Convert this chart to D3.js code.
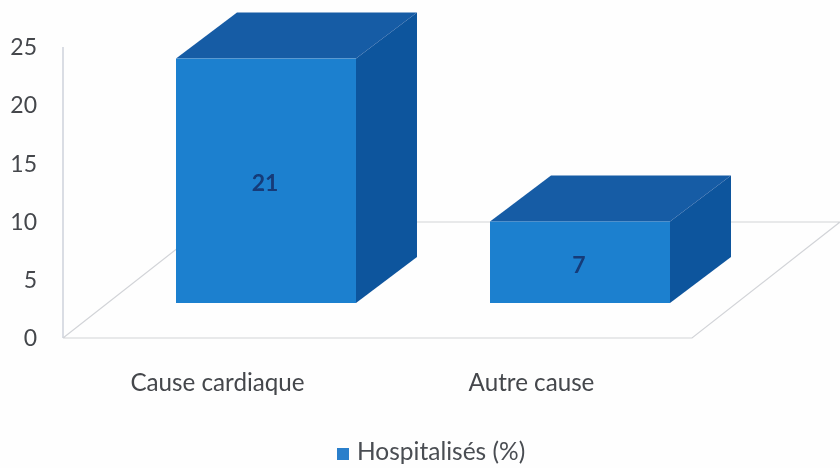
<!DOCTYPE html>
<html><head><meta charset="utf-8">
<script src="https://cdn.jsdelivr.net/npm/d3@7"></script>
<style>html,body{margin:0;padding:0;background:#fefefe}svg{display:block}text{font-family:Lato,"Open Sans",sans-serif}</style>
</head><body><div id="c"></div>
<script>
const categories = ["Cause cardiaque", "Autre cause"];
const values = [21, 7];
const yTicks = [0, 5, 10, 15, 20, 25];
const seriesName = "Hospitalisés (%)";

const W = 840, H = 468;
const svg = d3.select("#c").append("svg").attr("width", W).attr("height", H);
const defs = svg.append("defs");
defs.append("filter").attr("id", "soft").append("feGaussianBlur").attr("stdDeviation", 0.5);
const g = svg.append("g").attr("filter", "url(#soft)");

const y = d3.scaleLinear().domain([0, 25]).range([338, 47]);
const x = d3.scaleBand().domain(categories).range([176, 670]).paddingInner(0.4268).paddingOuter(0);
const barW = x.bandwidth();
const floorDx = 148, floorDy = 116;
const barDx = 61, barDy = 46;
const baseShift = 35;

// axis + floor
const grid = "#d2d4d8";
g.append("line").attr("x1", 63).attr("x2", 63).attr("y1", y(25)).attr("y2", y(0)).attr("stroke", "#c6cbd6").attr("stroke-width", 1.3);
g.append("path").attr("fill", "none").attr("stroke", grid).attr("stroke-width", 1.2)
  .attr("d", `M63,${y(0)}H692L${692 + floorDx},${y(0) - floorDy}H${63 + floorDx}L63,${y(0)}`);

// y tick labels
g.selectAll("text.yt").data(yTicks).join("text").attr("class", "yt")
  .attr("x", 37).attr("y", d => y(d)).attr("dy", "0.36em").attr("text-anchor", "end")
  .attr("font-size", 23).attr("fill", "#44474c").text(d => d);

// bars
const bars = g.selectAll("g.bar").data(categories.map((c, i) => ({ c, v: values[i] }))).join("g").attr("class", "bar");
const bottom = y(0) - baseShift;
const barTop = d => bottom - (y(0) - y(d.v));
bars.append("path").attr("fill", "#175ba5")
  .attr("d", d => { const l = x(d.c), t = barTop(d); return `M${l},${t}H${l + barW}L${l + barW + barDx},${t - barDy}H${l + barDx}Z`; });
bars.append("path").attr("fill", "#11549d")
  .attr("d", d => { const r = x(d.c) + barW, t = barTop(d); return `M${r},${t}L${r + barDx},${t - barDy}V${bottom - barDy}L${r},${bottom}Z`; });
bars.append("rect").attr("fill", "#1f80cf")
  .attr("x", d => x(d.c)).attr("y", d => barTop(d)).attr("width", barW).attr("height", d => bottom - barTop(d));
bars.append("text").attr("x", d => x(d.c) + barW / 2 - 1).attr("y", d => (barTop(d) + bottom) / 2 + 2)
  .attr("dy", "0.36em").attr("text-anchor", "middle").attr("font-size", 23).attr("font-weight", 700).attr("fill", "#123a78")
  .text(d => d.v);

// category labels
g.selectAll("text.cat").data(categories).join("text").attr("class", "cat")
  .attr("x", d => x(d) + barW / 2 - 48.5).attr("y", 391).attr("text-anchor", "middle")
  .attr("font-size", 24.2).attr("fill", "#44474c").text(d => d);

// legend
g.append("rect").attr("x", 337).attr("y", 448).attr("width", 12).attr("height", 12).attr("fill", "#2a7fcb");
g.append("text").attr("x", 357).attr("y", 460).attr("font-size", 24.5).attr("fill", "#4a4d52").text(seriesName);
</script></body></html>
